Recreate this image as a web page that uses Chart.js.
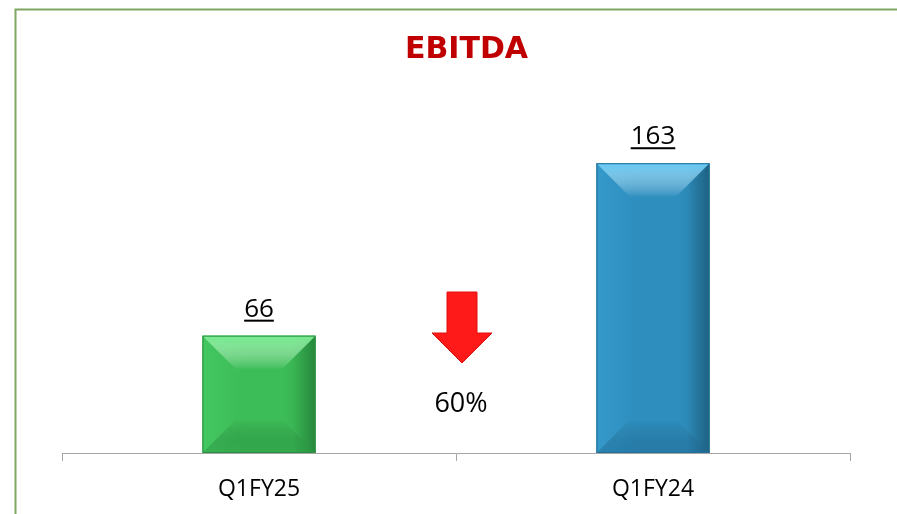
<!DOCTYPE html>
<html>
<head>
<meta charset="utf-8">
<script src="https://cdn.jsdelivr.net/npm/chart.js@4"></script>
<style>
  html, body { margin: 0; padding: 0; background: #ffffff; }
  #wrap { position: relative; width: 897px; height: 514px; }
  canvas { display: block; }
</style>
</head>
<body>
<div id="wrap"><canvas id="c" width="897" height="514"></canvas></div>
<script>
// ---- data ----
const categories = ['Q1FY25', 'Q1FY24'];
const ebitdaValues = [66, 163];
const changeLabel = '60%';
const chartTitle = 'EBITDA';

const barFaces = [
  { main: '#3cbd57', light: '#44c660', top: 'rgba(115,235,140,1)', bottom: 'rgba(35,140,60,0.35)', right: '#2c9a45', edge: '#2b8f42' },
  { main: '#2e8fbf', light: '#3599c9', top: 'rgba(100,200,245,1)', bottom: 'rgba(20,80,120,0.30)', right: '#226e94', edge: '#236f95' }
];

const bevelPlugin = {
  id: 'bevel',
  afterDatasetsDraw(chart) {
    const ctx = chart.ctx;
    const meta = chart.getDatasetMeta(0);
    meta.data.forEach((bar, i) => {
      const f = barFaces[i];
      const l = bar.x - bar.width / 2, r = bar.x + bar.width / 2;
      const t = bar.y, b = bar.base;
      const inset = Math.min(34, (b - t) / 2.2, bar.width / 2.2);
      const il = l + inset, ir = r - inset, it = t + inset, ib = b - inset;
      const poly = (pts, fill) => {
        ctx.beginPath();
        ctx.moveTo(pts[0][0], pts[0][1]);
        for (let k = 1; k < pts.length; k++) ctx.lineTo(pts[k][0], pts[k][1]);
        ctx.closePath();
        ctx.fillStyle = fill;
        ctx.fill();
      };
      ctx.save();
      const g = ctx.createLinearGradient(l, 0, r, 0);
      g.addColorStop(0, f.light);
      g.addColorStop(0.35, f.main);
      g.addColorStop(0.8, f.main);
      g.addColorStop(1, f.right);
      poly([[l, t], [r, t], [r, b], [l, b]], g);
      const gt = ctx.createLinearGradient(0, t, 0, it);
      gt.addColorStop(0, f.top);
      gt.addColorStop(1, 'rgba(255,255,255,0)');
      poly([[l, t], [r, t], [ir, it], [il, it]], gt);
      const gb = ctx.createLinearGradient(0, b, 0, ib);
      gb.addColorStop(0, f.bottom);
      gb.addColorStop(1, 'rgba(0,0,0,0)');
      poly([[l, b], [r, b], [ir, ib], [il, ib]], gb);
      const gr = ctx.createLinearGradient(r, 0, ir, 0);
      gr.addColorStop(0, 'rgba(0,0,0,0.12)');
      gr.addColorStop(1, 'rgba(0,0,0,0)');
      poly([[r, t], [ir, it], [ir, ib], [r, b]], gr);
      ctx.strokeStyle = f.edge; ctx.lineWidth = 1;
      ctx.strokeRect(l + 0.5, t + 0.5, bar.width - 1, b - t - 1);
      ctx.restore();

      ctx.save();
      ctx.font = '26px "Open Sans"';
      ctx.fillStyle = '#000000';
      ctx.textAlign = 'center';
      ctx.textBaseline = 'alphabetic';
      const txt = String(ebitdaValues[i]);
      const baseY = t - 19;
      ctx.fillText(txt, bar.x, baseY);
      const w = ctx.measureText(txt).width;
      ctx.fillRect(bar.x - w / 2, baseY + 3, w, 2);
      ctx.restore();
    });

    const xs = chart.scales.x;
    const cx = (xs.getPixelForValue(0) + xs.getPixelForValue(1)) / 2 + 6;
    const base = chart.chartArea.bottom;
    const topY = base - 161, shaftBot = base - 120, tipY = base - 90;
    ctx.save();
    ctx.beginPath();
    ctx.moveTo(cx - 15, topY);
    ctx.lineTo(cx + 15, topY);
    ctx.lineTo(cx + 15, shaftBot);
    ctx.lineTo(cx + 30, shaftBot);
    ctx.lineTo(cx, tipY);
    ctx.lineTo(cx - 30, shaftBot);
    ctx.lineTo(cx - 15, shaftBot);
    ctx.closePath();
    ctx.fillStyle = '#ff1a1a';
    ctx.fill();
    ctx.strokeStyle = '#e01010';
    ctx.lineWidth = 1;
    ctx.stroke();
    ctx.font = '27px "Open Sans"';
    ctx.fillStyle = '#000000';
    ctx.textAlign = 'center';
    ctx.textBaseline = 'alphabetic';
    ctx.fillText(changeLabel, cx - 1, base - 41);
    ctx.restore();
  }
};

const framePlugin = {
  id: 'frame',
  afterDraw(chart) {
    const ctx = chart.ctx;
    ctx.save();
    ctx.font = 'bold 30px "DejaVu Sans"';
    ctx.fillStyle = '#c00000';
    ctx.textAlign = 'center';
    ctx.textBaseline = 'alphabetic';
    ctx.fillText(chartTitle, 466.5, 58);
    ctx.strokeStyle = '#7ea661';
    ctx.lineWidth = 2;
    ctx.beginPath();
    ctx.moveTo(15.5, 514);
    ctx.lineTo(15.5, 9.5);
    ctx.lineTo(897, 9.5);
    ctx.stroke();
    ctx.restore();
  }
};

new Chart(document.getElementById('c'), {
  type: 'bar',
  data: {
    labels: categories,
    datasets: [{
      data: ebitdaValues,
      backgroundColor: barFaces.map(f => f.main),
      borderWidth: 0,
      categoryPercentage: 1.0,
      barPercentage: 0.287
    }]
  },
  options: {
    responsive: false,
    animation: false,
    layout: { padding: { left: 62, right: 47, top: 133, bottom: -4 } },
    plugins: {
      legend: { display: false },
      tooltip: { enabled: false },
      title: { display: false }
    },
    scales: {
      x: {
        offset: true,
        grid: {
          display: true,
          offset: true,
          drawOnChartArea: false,
          drawTicks: true,
          tickLength: 8,
          color: '#a6a6a6'
        },
        border: { display: true, color: '#a6a6a6', width: 1 },
        ticks: {
          color: '#000000',
          font: { family: '"Open Sans"', size: 23, lineHeight: 1.0 },
          padding: 17
        }
      },
      y: {
        display: false,
        min: 0,
        max: 180
      }
    }
  },
  plugins: [bevelPlugin, framePlugin]
});
</script>
</body>
</html>
